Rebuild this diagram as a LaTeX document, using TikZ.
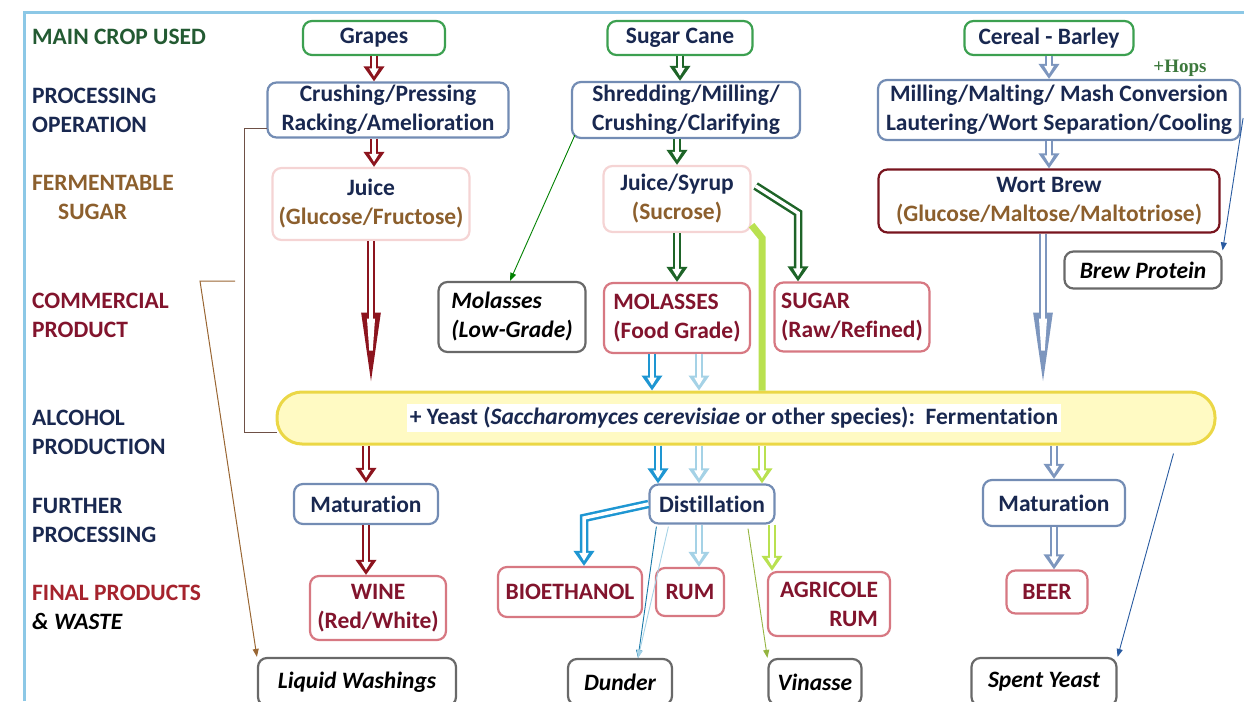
\documentclass[tikz,border=0pt]{standalone}
\usepackage{fontspec}
\setmainfont{Carlito}[Ligatures={NoCommon}]
\newfontfamily\hopsfont{Liberation Serif}
\usetikzlibrary{arrows.meta,calc,positioning}

\definecolor{lblgreen}{RGB}{35,90,50}
\definecolor{navy}{RGB}{25,40,80}
\definecolor{sugbrown}{RGB}{140,95,45}
\definecolor{dkred}{RGB}{130,20,45}
\definecolor{finred}{RGB}{165,35,45}
\definecolor{cgreen}{RGB}{60,160,80}
\definecolor{cbluegray}{RGB}{115,140,180}
\definecolor{cpink}{RGB}{245,212,212}
\definecolor{cpinkred}{RGB}{215,120,130}
\definecolor{cgray}{RGB}{105,105,105}
\definecolor{cwortred}{RGB}{120,20,30}
\definecolor{awine}{RGB}{140,20,30}
\definecolor{agreen}{RGB}{30,100,40}
\definecolor{ablue}{RGB}{30,150,210}
\definecolor{alblue}{RGB}{165,210,230}
\definecolor{aygreen}{RGB}{185,225,80}
\definecolor{abgray}{RGB}{125,150,190}
\definecolor{athin}{RGB}{40,90,160}
\definecolor{framebl}{RGB}{140,200,230}
\definecolor{fermfill}{RGB}{255,250,195}
\definecolor{fermline}{RGB}{235,215,70}
\definecolor{hopsgreen}{RGB}{60,120,60}
\definecolor{brackbr}{RGB}{110,80,70}

\newcommand\bigf{\fontsize{23.5}{29}\selectfont}

\tikzset{
  lbl/.style={anchor=west, inner sep=0pt, align=left, font=\bigf\bfseries},
  box/.style={draw=#1, line width=2.2pt, rounded corners=9pt, fill=white,
    align=center, inner sep=0pt, text=navy, font=\bigf\bfseries},
  wastebox/.style={box=cgray, text=black, font=\bigf\bfseries\itshape},
  hollow/.style={line width=8.5pt, draw=#1, -{Triangle[length=15pt,width=20pt]},
    postaction={draw=white, line width=3.5pt, shorten >=5pt,
      -{Triangle[length=8pt,width=9pt]}}},
  taper/.style={line width=8.5pt, draw=#1, -{Triangle[length=78pt,width=17pt]},
    postaction={draw=white, line width=3.5pt, shorten >=8pt,
      -{Triangle[length=64pt,width=7pt]}}},
  thin/.style={draw=#1, line width=0.9pt, -{Triangle[length=8pt,width=6pt]}},
  bracket/.style={draw=brackbr, line width=1pt},
}

\begin{document}
\begin{tikzpicture}[x=1pt, y=-1pt]
  \useasboundingbox (0,0) rectangle (1244,701);
  \draw[framebl, line width=3pt] (24,701) -- (24,13) -- (1244,13);

  % row labels
  \node[lbl, text=lblgreen] (lcrop) at (32,37) {MAIN CROP USED};
  \node[lbl, text=navy] (lproc) at (32,110) {PROCESSING\\OPERATION};
  \node[lbl, text=sugbrown] (lferm) at (32,197) {FERMENTABLE\\\hspace{26pt}SUGAR};
  \node[lbl, text=dkred] (lcomm) at (32,315) {COMMERCIAL\\PRODUCT};
  \node[lbl, text=navy] (lalc) at (32,432) {ALCOHOL\\PRODUCTION};
  \node[lbl, text=navy] (lfur) at (32,520) {FURTHER\\PROCESSING};
  \node[lbl, text=finred] (lfin) at (32,607) {FINAL PRODUCTS\\\textcolor{black}{\itshape\& WASTE}};

  % fermentation bar
  \node[draw=fermline, fill=fermfill, line width=3pt, rounded corners=25pt,
    minimum width=938, minimum height=52] (ferm) at (746,418) {};
  \node[fill=white, inner sep=3pt, text=navy, font=\bigf\bfseries] (fermtxt) at (734,418)
    {+ Yeast (\textit{Saccharomyces cerevisiae} or other species):\ \ Fermentation};

  % grapes column
  \node[box=cgreen, minimum width=142, minimum height=34] (grapes) at (374,38) {Grapes};
  \node[box=cbluegray, minimum width=241, minimum height=55] (crush) at (388,110) {Crushing/Pressing\\Racking/Amelioration};
  \node[box=cpink, minimum width=197, minimum height=72] (juice) at (371,204) {Juice\\\textcolor{sugbrown}{(Glucose/Fructose)}};
  \node[box=cbluegray, minimum width=144, minimum height=40] (matA) at (366,504) {Maturation};
  \node[box=cpinkred, text=dkred, minimum width=136, minimum height=64] (wine) at (378,608) {WINE\\(Red/White)};
  \node[wastebox, minimum width=198, minimum height=48] (wash) at (357,682) {Liquid Washings};

  % sugar cane column
  \node[box=cgreen, minimum width=145, minimum height=34] (cane) at (680,38) {Sugar Cane};
  \node[box=cbluegray, minimum width=228, minimum height=56] (shred) at (686,110) {Shredding/Milling/\\Crushing/Clarifying};
  \node[box=cpink, minimum width=147, minimum height=66] (syrup) at (677,199) {Juice/Syrup\\\textcolor{sugbrown}{(Sucrose)}};
  \node[wastebox, align=left, minimum width=147, minimum height=70] (molLow) at (512,317) {Molasses\\(Low-Grade)};
  \node[box=cpinkred, text=dkred, align=left, minimum width=146, minimum height=70] (molFood) at (677,318) {MOLASSES\\(Food Grade)};
  \node[box=cpinkred, text=dkred, align=left, minimum width=155, minimum height=69] (sugar) at (852,317) {SUGAR\\(Raw/Refined)};
  \node[box=cbluegray, minimum width=125, minimum height=39] (dist) at (712,504) {Distillation};
  \node[box=cpinkred, text=dkred, minimum width=144, minimum height=50] (bio) at (570,592) {BIOETHANOL};
  \node[box=cpinkred, text=dkred, minimum width=68, minimum height=48] (rum) at (690,592) {RUM};
  \node[box=cpinkred, text=dkred, align=right, minimum width=122, minimum height=64] (agri) at (829,604) {AGRICOLE\\RUM};
  \node[wastebox, minimum width=104, minimum height=46] (dunder) at (620,682) {Dunder};
  \node[wastebox, minimum width=93, minimum height=46] (vinasse) at (815,682) {Vinasse};

  % barley column
  \node[box=cgreen, minimum width=169, minimum height=34] (barley) at (1049,38) {Cereal - Barley};
  \node[text=hopsgreen, font=\hopsfont\bfseries\fontsize{19}{22}\selectfont] (hops) at (1180,68) {+Hops};
  \node[box=cbluegray, minimum width=362, minimum height=60] (mill) at (1059,110) {Milling/Malting/ Mash Conversion\\Lautering/Wort Separation/Cooling};
  \node[box=cwortred, minimum width=341, minimum height=63] (wort) at (1049,201) {Wort Brew\\\textcolor{sugbrown}{(Glucose/Maltose/Maltotriose)}};
  \node[wastebox, minimum width=157, minimum height=37] (protein) at (1143,270) {Brew Protein};
  \node[box=cbluegray, minimum width=142, minimum height=46] (matB) at (1054,503) {Maturation};
  \node[box=cpinkred, text=dkred, minimum width=81, minimum height=43] (beer) at (1047,592) {BEER};
  \node[wastebox, minimum width=145, minimum height=48] (spent) at (1044,682) {Spent Yeast};

  % helper points
  \coordinate (brA) at (267,128);
  \coordinate (brB) at (277,432);
  \coordinate (brC) at (235,281);
  \coordinate (sbend) at (798,213);
  \coordinate (ygA) at (762,238);
  \coordinate (ygB) at (772,0);
  \coordinate (xb) at (652,0);
  \coordinate (xb2) at (658,0);
  \coordinate (xl) at (699,0);
  \coordinate (bbend) at (584,518);
  \coordinate (dtop) at (638,658);
  \coordinate (xw) at (1043,0);

  % brackets
  \draw[bracket] (brA) -- ++(-23,0) |- (brB);
  \draw[bracket, draw=brown!80!black, -{Triangle[length=8pt,width=6pt]}] (brC) -- ++(-35,0) -- (wash.north west);

  % wine arrows
  \draw[hollow=awine] (grapes.south) -- (grapes.south |- crush.north);
  \draw[hollow=awine] (crush.south -| grapes.south) -- (juice.north -| grapes.south);
  \draw[taper=awine] (juice.south) -- (juice.south |- ferm.north);
  \draw[hollow=awine] (ferm.south -| matA.north) -- (matA.north);
  \draw[hollow=awine] (matA.south) -- (matA.south |- wine.north);

  % sugar cane arrows
  \draw[hollow=agreen] (cane.south) -- (cane.south |- shred.north);
  \draw[hollow=agreen] (shred.south -| syrup.north) -- (syrup.north);
  \draw[hollow=agreen] (syrup.south) -- (syrup.south |- molFood.north);
  \draw[hollow=agreen] ($(syrup.east)+(4,-13)$) -- (sbend) -- (sbend |- sugar.north);
  \draw[thin=green!50!black] ($(shred.south west)+(4,-4)$) -- ($(molLow.north)+(-2,0)$);
  \draw[line width=7pt, aygreen] ($(syrup.south east)+(0,-8)$) -- (ygA) -- (ygA |- ferm.north);
  \draw[hollow=aygreen] (ferm.south -| ygA) -- (ygA |- dist.north);
  \draw[hollow=aygreen] (dist.south -| ygB) -- (agri.north -| ygB);
  \draw[hollow=ablue] (molFood.south -| xb) -- (ferm.north -| xb);
  \draw[hollow=alblue] (molFood.south -| xl) -- (ferm.north -| xl);
  \draw[hollow=ablue] (ferm.south -| xb2) -- (dist.north -| xb2);
  \draw[hollow=alblue] (ferm.south -| xl) -- (dist.north -| xl);
  \draw[hollow=ablue] (dist.west) -- (bbend) -- (bbend |- bio.north);
  \draw[hollow=alblue] (dist.south -| xl) -- (rum.north -| xl);
  \draw[thin=ablue!80!black] ($(dist.south west)+(8,2)$) -- (dtop);
  \draw[thin=alblue] ($(dist.south west)+(20,2)$) -- (dtop);
  \draw[thin=aygreen!80!black] ($(dist.south)+(36,4)$) -- (vinasse.north west);

  % barley arrows
  \draw[hollow=abgray] (barley.south) -- (barley.south |- mill.north);
  \draw[hollow=abgray] (mill.south -| wort.north) -- (wort.north);
  \draw[taper=abgray] (wort.south -| xw) -- (ferm.north -| xw);
  \draw[hollow=abgray] (ferm.south -| matB.north) -- (matB.north);
  \draw[hollow=abgray] (matB.south) -- (matB.south |- beer.north);
  \draw[thin=athin] ($(mill.east)+(2,8)$) -- (protein.north east);
  \draw[thin=athin] ($(ferm.south east)+(-43,8)$) -- (spent.north east);
\end{tikzpicture}
\end{document}
